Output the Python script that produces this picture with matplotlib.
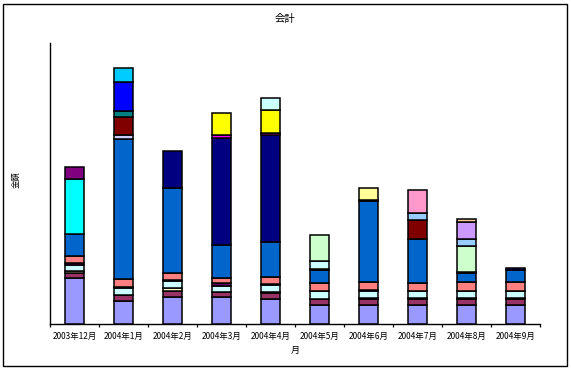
import matplotlib
matplotlib.use("Agg")
import matplotlib.pyplot as plt
from matplotlib.patches import Rectangle
import numpy as np

plt.rcParams['font.family'] = ['Noto Sans CJK JP', 'DejaVu Sans']

months = ["2003年12月", "2004年1月", "2004年2月", "2004年3月", "2004年4月",
          "2004年5月", "2004年6月", "2004年7月", "2004年8月", "2004年9月"]

# stacked account series (bottom to top) (arbitrary units)
acct01 = [45.7, 22.7, 26.7, 26.7, 25.3, 18.7, 18.7, 18.7, 18.7, 18.7]
acct02 = [5.8, 6.0, 6.3, 5.0, 6.2, 6.0, 6.3, 6.3, 6.3, 6.3]
acct03 = [1.2, 0.8, 3.0, 0.5, 0.5, 0.8, 0.7, 0.7, 0.7, 0.7]
acct04 = [6.8, 7.0, 7.3, 6.3, 7.0, 7.2, 7.0, 7.0, 7.0, 7.0]
acct05 = [1.2, 0.8, 0.7, 2.2, 0.7, 0.7, 1.8, 0.7, 0.7, 0.7]
acct06 = [7.0, 7.4, 6.7, 5.8, 7.0, 7.9, 7.6, 7.9, 8.3, 8.3]
acct07 = [22.0, 140.6, 85.0, 32.5, 35.0, 13.0, 80.6, 43.4, 9.3, 12.3]
acct08 = [0, 3.4, 0, 0, 0, 0, 0, 0, 1.5, 0]
acct09 = [0, 0, 37.0, 107.0, 107.0, 1.0, 1.7, 0.6, 0, 1.7]
acct10 = [0, 0, 0, 2.7, 2.6, 0, 0, 0, 0, 0]
acct11 = [0, 0, 0, 22.0, 22.4, 0, 0, 0, 0, 0]
acct12 = [55.0, 0, 0, 0, 0, 0, 0, 0, 0, 0]
acct13 = [12.0, 0, 0, 0, 0, 0, 0, 0, 0, 0]
acct14 = [0, 18.0, 0, 0, 0, 0, 0, 18.4, 0, 0]
acct15 = [0, 6.6, 0, 0, 0, 0, 0, 0, 0, 0]
acct16 = [0, 28.4, 0, 0, 0, 0, 0, 0, 0, 0]
acct17 = [0, 14.0, 0, 0, 0, 0, 0, 0, 0, 0]
acct18 = [0, 0, 0, 0, 12.0, 7.7, 0, 0, 0, 0]
acct19 = [0, 0, 0, 0, 0, 25.7, 0, 0, 25.2, 0]
acct20 = [0, 0, 0, 0, 0, 0, 11.7, 0, 0, 0]
acct21 = [0, 0, 0, 0, 0, 0, 0, 7.0, 7.0, 0]
acct22 = [0, 0, 0, 0, 0, 0, 0, 23.3, 0, 0]
acct23 = [0, 0, 0, 0, 0, 0, 0, 0, 17.0, 0]
acct24 = [0, 0, 0, 0, 0, 0, 0, 0, 3.3, 0]

series = [acct01, acct02, acct03, acct04, acct05, acct06, acct07, acct08,
          acct09, acct10, acct11, acct12, acct13, acct14, acct15, acct16,
          acct17, acct18, acct19, acct20, acct21, acct22, acct23, acct24]
colors = ["#9999FF", "#993366", "#FFFFCC", "#CCFFFF", "#660066", "#FF8080",
          "#0066CC", "#CCCCFF", "#000080", "#FF00FF", "#FFFF00", "#00FFFF",
          "#800080", "#800000", "#008080", "#0000FF", "#00CCFF", "#CCFFFF",
          "#CCFFCC", "#FFFF99", "#99CCFF", "#FF99CC", "#CC99FF", "#FFCC99"]

W, H = 571, 370
fig = plt.figure(figsize=(W / 100, H / 100), dpi=100)
fig.patch.set_facecolor("white")

ax_l, ax_r, ax_t, ax_b = 50, 540, 43, 324
ax = fig.add_axes([ax_l / W, (H - ax_b) / H, (ax_r - ax_l) / W, (ax_b - ax_t) / H])

x = np.arange(len(months))
bottom = np.zeros(len(months))
for vals, col in zip(series, colors):
    v = np.array(vals, dtype=float)
    m = v > 0
    ax.bar(x[m], v[m], bottom=bottom[m], width=0.39, color=col,
           edgecolor="black", linewidth=1.1, zorder=3)
    bottom += v

ax.set_xlim(-0.5, len(months) - 0.5)
ax.set_ylim(0, ax_b - ax_t)

for s in ["top", "right"]:
    ax.spines[s].set_visible(False)
ax.spines["left"].set_linewidth(1.0)
ax.spines["bottom"].set_linewidth(1.0)

ax.set_yticks([])
ax.set_xticks(x)
ax.set_xticklabels(months, fontsize=6)
ax.tick_params(axis="x", which="major", length=0, pad=6)
ax.set_xticks(np.arange(len(months) + 1) - 0.5, minor=True)
ax.tick_params(axis="x", which="minor", length=2.5, width=0.9, direction="out")

ax.set_xlabel("月", fontsize=6.5, labelpad=3)
fig.text(16 / W, 1 - 180 / H, "金額", rotation=90, fontsize=6,
         ha="center", va="center")
fig.text(0.5, 1 - 19 / H, "会計", fontsize=7.5, ha="center", va="center")

fig.add_artist(Rectangle((3 / W, 4 / H), (567 - 3) / W, (366 - 4) / H,
                         transform=fig.transFigure, fill=False,
                         edgecolor="black", linewidth=1.0))

fig.savefig("out.png", dpi=100)
